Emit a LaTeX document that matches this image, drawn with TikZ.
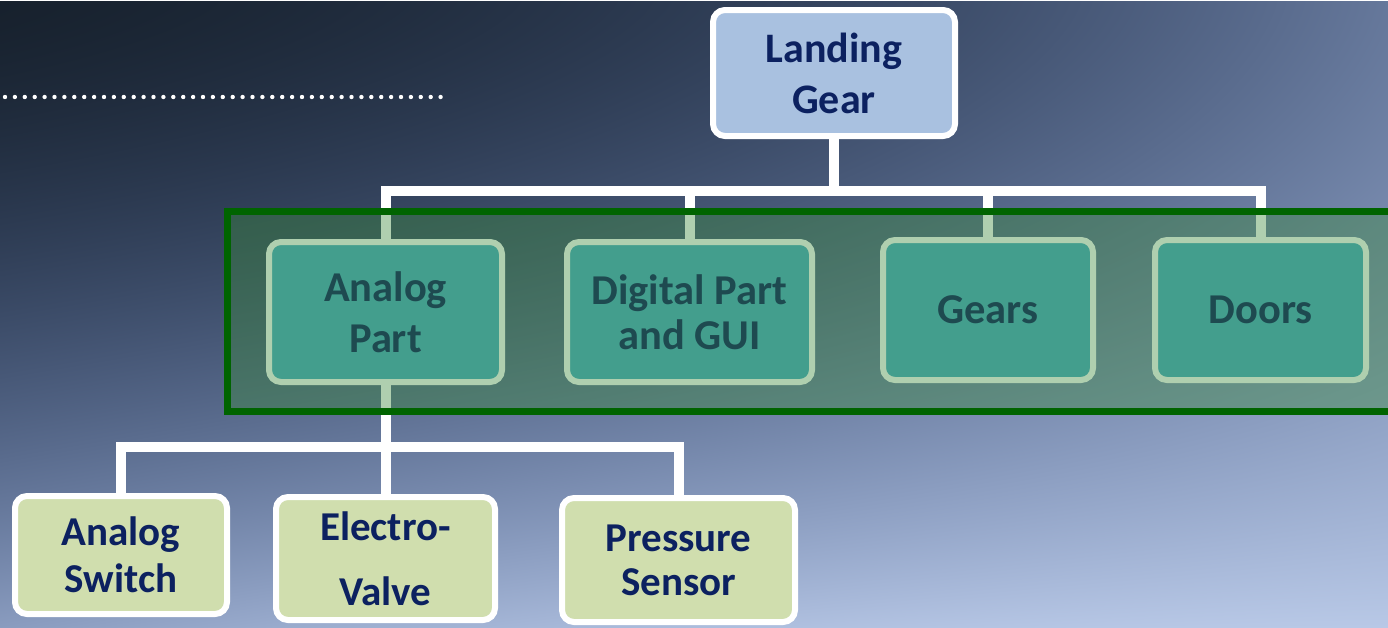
\documentclass[tikz,border=0pt]{standalone}
\usepackage{fontspec}
\setmainfont{Carlito}
\pgfdeclarelayer{bgl}
\pgfdeclarelayer{edges}
\pgfdeclarelayer{ovl}
\pgfsetlayers{bgl,edges,main,ovl}
\definecolor{navy}{RGB}{12,33,96}
\definecolor{lgblue}{RGB}{169,193,224}
\definecolor{aqua}{RGB}{75,172,198}
\definecolor{paleolive}{RGB}{208,222,174}
\definecolor{ovgreen}{RGB}{57,137,57}
\definecolor{dkgreen}{RGB}{0,100,0}
% background: dark navy (top left) to light blue (bottom right)
\pgfdeclarefunctionalshading{bgsh}{\pgfpoint{0pt}{0pt}}{\pgfpoint{1388pt}{627pt}}{}{
  625 div 1 exch sub exch 1383 div exch
  1.4 exp exch
  dup dup mul
  2 copy 0.37 mul exch 0.2 mul add
  3 1 roll neg exch 2 mul add 0.23 mul 0.77 add
  1 index sub 3 -1 roll mul add
  dup dup mul
  1 index 107 mul 1 index 54 mul add 23 add 255 div
  2 index 133 mul 2 index 34 mul add 33 add 255 div
  3 index 203 mul 3 index 18 mul sub 45 add 255 div
  5 3 roll pop pop
}
\begin{document}
\begin{tikzpicture}[x=1pt,y=-1pt,
  box/.style={draw=white,line width=6pt,rounded corners=12pt,align=center,text=navy,inner sep=0pt},
  topbox/.style={box,fill=lgblue,font=\fontsize{42}{51}\selectfont\bfseries},
  midbox/.style={box,fill=aqua,font=\fontsize{42.5}{51}\selectfont\bfseries},
  lowbox/.style={box,fill=paleolive,font=\fontsize{41}{47}\selectfont\bfseries},
  conn/.style={draw=white,line width=10pt}]
\useasboundingbox (0,0) rectangle (1388,627);
\begin{pgfonlayer}{bgl}
\node[inner sep=0pt,outer sep=0pt,anchor=north west] (bg) at (0,0) {\pgfuseshading{bgsh}};
\end{pgfonlayer}
% dotted rule
\coordinate (dA) at (5,97);
\coordinate (dB) at (441,97);
\draw[white,line width=4.4pt,line cap=round,dash pattern=on 0pt off 9.9pt] (dA) -- (dB);
% boxes
\node[topbox,minimum width=242pt,minimum height=126pt] (LG) at (834,73) {Landing\\Gear};
\node[midbox,minimum width=233pt,minimum height=140pt] (AP) at (385.5,312) {Analog\\Part};
\node[midbox,minimum width=245pt,minimum height=140pt,font=\fontsize{42.5}{45}\selectfont\bfseries] (DP) at (689.5,312) {Digital Part\\and GUI};
\node[midbox,minimum width=210pt,minimum height=140pt] (GE) at (988,310) {Gears};
\node[midbox,minimum width=211pt,minimum height=140pt] (DO) at (1260.5,310) {Doors};
\node[lowbox,minimum width=212pt,minimum height=118pt] (AS) at (121,555) {Analog\\Switch};
\node[lowbox,minimum width=219pt,minimum height=123pt,font=\fontsize{41}{65}\selectfont\bfseries] (EV) at (385.5,558.5) {Electro-\\Valve};
\node[lowbox,minimum width=233pt,minimum height=124pt,font=\fontsize{41}{44}\selectfont\bfseries] (PS) at (678.5,560) {Pressure\\Sensor};
% connectors
\coordinate (b1) at (834,191);
\coordinate (b2) at (385.5,447);
\begin{pgfonlayer}{edges}
\draw[conn] (LG.south) -- (b1);
\draw[conn] (b1) -| (AP.north);
\draw[conn] (b1) -| (DP.north);
\draw[conn] (b1) -| (GE.north);
\draw[conn] (b1) -| (DO.north);
\draw[conn] (AP.south) -- (EV.north);
\draw[conn] (b2) -| (AS.north);
\draw[conn] (b2) -| (PS.north);
\end{pgfonlayer}
% translucent highlight frame
\begin{pgfonlayer}{ovl}
\fill[ovgreen,fill opacity=0.4] (227,211) rectangle (1388,411);
\draw[dkgreen,line width=7pt] (1388,211) -- (227,211) -- (227,411) -- (1388,411);
\end{pgfonlayer}
\end{tikzpicture}
\end{document}
